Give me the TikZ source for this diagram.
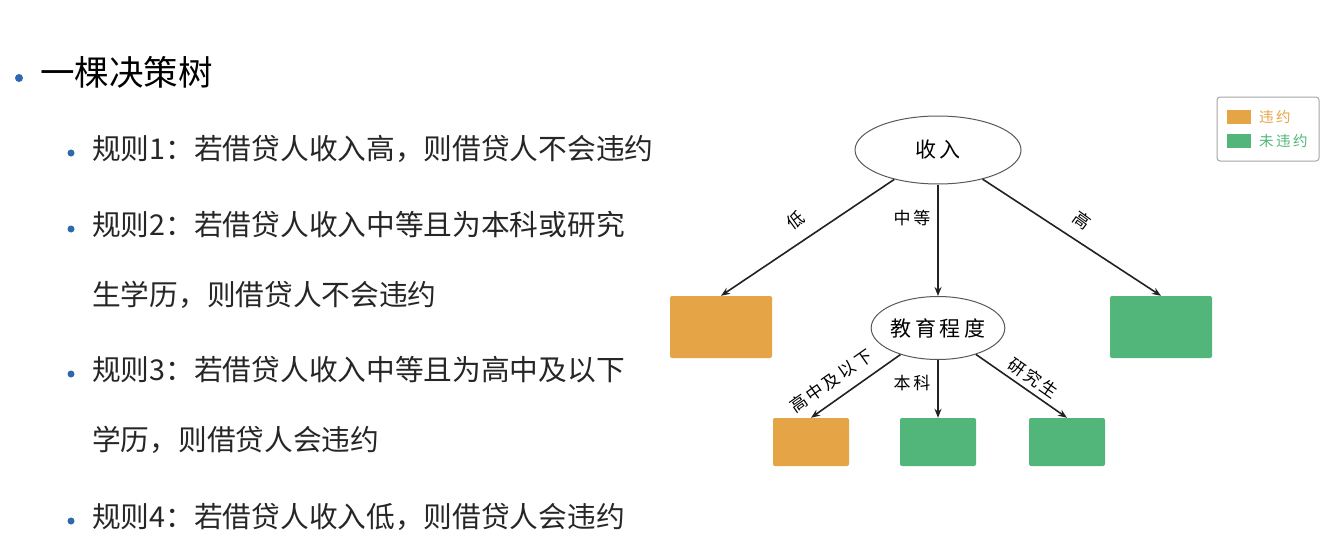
\documentclass[tikz,border=0pt]{standalone}
\usepackage{fontspec}
\setmainfont{Noto Sans CJK SC}
\newfontfamily\cjk{Noto Sans CJK SC}
\usetikzlibrary{shapes.geometric,arrows.meta}
\definecolor{bul}{HTML}{2E68B0}
\definecolor{org}{HTML}{E5A445}
\definecolor{grn}{HTML}{52B57A}
\definecolor{edge}{HTML}{222222}
\tikzset{
  bigtxt/.style={anchor=west,inner sep=0pt,font=\cjk\fontsize{34.5}{34.5}\selectfont},
  ruletxt/.style={anchor=west,inner sep=0pt,font=\cjk\fontsize{28.7}{28.7}\selectfont,text=black!85},
  dotbig/.style={circle,fill=bul,inner sep=0pt,minimum size=8pt},
  dotsm/.style={circle,fill=bul,inner sep=0pt,minimum size=7pt},
  ell/.style={ellipse,draw=black!65,line width=1pt,inner sep=0pt},
  leaf/.style={rounded corners=2pt,inner sep=0pt},
  arr/.style={draw=edge,line width=1.6pt,-{Stealth[length=9pt,width=7pt]}},
  lab/.style={font=\cjk\fontsize{17}{17}\selectfont,inner sep=0pt},
}
\begin{document}
\begin{tikzpicture}[x=1pt,y=-1pt]
\useasboundingbox[fill=white] (0,0) rectangle (1323,554);
% text list
\node[dotbig] (d0) at (19,78) {};
\node[bigtxt] (t0) at (40,72) {一棵决策树};
\node[dotsm] (d1) at (71,153) {};
\node[ruletxt] (t1) at (92,149) {规则1：若借贷人收入高，则借贷人不会违约};
\node[dotsm] (d2) at (71,229) {};
\node[ruletxt] (t2) at (92,225) {规则2：若借贷人收入中等且为本科或研究};
\node[ruletxt] (t2b) at (92,295) {生学历，则借贷人不会违约};
\node[dotsm] (d3) at (71,374) {};
\node[ruletxt] (t3) at (92,370) {规则3：若借贷人收入中等且为高中及以下};
\node[ruletxt] (t3b) at (92,440) {学历，则借贷人会违约};
\node[dotsm] (d4) at (71,521) {};
\node[ruletxt] (t4) at (92,517) {规则4：若借贷人收入低，则借贷人会违约};
% tree
\node[ell,minimum width=166pt,minimum height=68pt,font=\cjk\fontsize{21}{21}\selectfont] (root) at (938,150) {收\,入};
\node[leaf,fill=org,minimum width=102pt,minimum height=62pt] (lbox) at (721,327) {};
\node[leaf,fill=grn,minimum width=102pt,minimum height=62pt] (rbox) at (1161,327) {};
\node[ell,minimum width=127pt,minimum height=63pt,font=\cjk\fontsize{21}{21}\selectfont] (edu) at (938,328) {教\,育\,程\,度};
\node[leaf,fill=org,minimum width=76pt,minimum height=48pt] (b1) at (811,442) {};
\node[leaf,fill=grn,minimum width=76pt,minimum height=48pt] (b2) at (938,442) {};
\node[leaf,fill=grn,minimum width=76pt,minimum height=48pt] (b3) at (1067,442) {};
\draw[arr] (root) -- (lbox.north);
\draw[arr] (root) -- (edu);
\draw[arr] (root) -- (rbox.north);
\draw[arr] (edu) -- (b1.north);
\draw[arr] (edu) -- (b2.north);
\draw[arr] (edu) -- (b3.north);
\node[lab,rotate=36] (l1) at (796,220) {低};
\node[lab] (l2) at (912,218) {中\,等};
\node[lab,rotate=-36] (l3) at (1082,220) {高};
\node[lab,rotate=35] (l4) at (831,381) {高\,中\,及\,以\,下};
\node[lab] (l5) at (912,383) {本\,科};
\node[lab,rotate=-35] (l6) at (1033,378) {研\,究\,生};
% legend
\node[draw=black!35,line width=1pt,rounded corners=3pt,minimum width=102pt,minimum height=64pt,inner sep=0pt] (leg) at (1268,129) {};
\node[fill=org,minimum width=24pt,minimum height=14pt,inner sep=0pt] (s1) at (1239,117) {};
\node[fill=grn,minimum width=24pt,minimum height=14pt,inner sep=0pt] (s2) at (1239,141) {};
\node[anchor=west,inner sep=0pt,text=org,font=\cjk\fontsize{14.5}{14.5}\selectfont] (g1) at (1259,117) {违\,约};
\node[anchor=west,inner sep=0pt,text=grn,font=\cjk\fontsize{14.5}{14.5}\selectfont] (g2) at (1259,141) {未\,违\,约};
\end{tikzpicture}
\end{document}
